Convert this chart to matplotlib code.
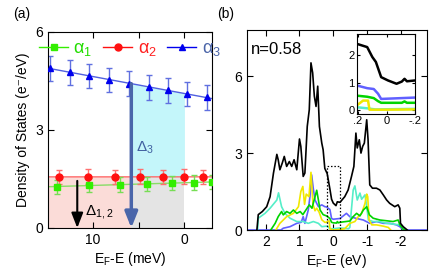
import numpy as np
import matplotlib
matplotlib.use('Agg')
from matplotlib import pyplot as plt

plt.rcParams['font.family'] = ['Liberation Sans', 'DejaVu Sans']
plt.rcParams['axes.unicode_minus'] = False
plt.rcParams['mathtext.fontset'] = 'custom'
plt.rcParams['mathtext.rm'] = 'Liberation Sans'
plt.rcParams['mathtext.it'] = 'Liberation Sans'

# ---- panel (a): DOS vs E_F-E (meV) ----
a1_x = [13.86, 10.37, 7.02, 4.10, 1.38, -1.09, -3.06]
a1_y = [1.26, 1.31, 1.33, 1.35, 1.37, 1.39, 1.41]
a2_x = [13.65, 10.48, 7.57, 4.84, 2.36, 0.0, -2.07]
a2_y = [1.56, 1.57, 1.56, 1.57, 1.56, 1.57, 1.56]
a3_x = [14.66, 12.48, 10.37, 8.19, 6.04, 3.89, 1.75, -0.33, -2.45]
a3_y = [4.89, 4.77, 4.65, 4.53, 4.42, 4.31, 4.21, 4.10, 4.00]
a1_err = 0.22
a2_err = 0.22
a3_err = 0.38
gap12 = 11.7   # Delta_1,2 position (meV)
gap3 = 5.8     # Delta_3 position (meV)

# ---- panel (b): calculated DOS vs E_F-E (eV) ----
black_x = [2.26, 2.22, 2.10, 1.97, 1.87, 1.77, 1.67, 1.63, 1.58, 1.51, 1.45, 1.38, 1.30, 1.23, 1.16,
           1.08, 1.00, 0.96, 0.89, 0.84, 0.77, 0.71, 0.66, 0.61, 0.56, 0.51, 0.46, 0.41, 0.34, 0.30,
           0.25, 0.18, 0.10, 0.05, 0.0, -0.08, -0.12, -0.20, -0.34, -0.44, -0.54, -0.61, -0.67, -0.71,
           -0.77, -0.82, -0.87, -0.92, -0.99, -1.03, -1.08, -1.16, -1.28, -1.38, -1.48, -1.58, -1.67,
           -1.82, -1.92, -1.97, -1.99, -2.07, -2.19]
black_y = [0, 0.6, 0.72, 0.91, 1.30, 2.22, 2.95, 2.74, 2.35, 2.61, 2.87, 2.48, 2.67, 2.48, 2.74,
           2.35, 3.55, 3.26, 2.09, 2.22, 4.04, 4.69, 6.52, 6.13, 5.22, 4.82, 5.61, 4.04, 3.39, 3.13,
           2.4, 2.2, 1.6, 1.2, 1.05, 0.95, 1.1, 1.08, 1.30, 1.56, 2.09, 2.48, 3.78, 3.20,
           3.52, 3.0, 3.26, 3.39, 4.30, 3.52, 1.76, 1.63, 1.63, 1.56, 1.37, 1.17, 1.04,
           0.91, 0.98, 0.85, 0.26, 0.13, 0.0]
cyan_x = [2.24, 2.22, 2.02, 1.87, 1.67, 1.62, 1.53, 1.43, 1.28, 1.08, 0.89, 0.74, 0.59, 0.44, 0.34,
          0.20, 0.15, 0.10, 0.0, -0.2, -0.45, -0.49, -0.59, -0.64, -0.71, -0.79, -0.84, -0.94, -0.99,
          -1.04, -1.18, -1.38, -1.58, -1.77, -1.97, -2.07, -2.15]
cyan_y = [0, 0.46, 0.65, 0.85, 1.17, 1.45, 0.91, 0.65, 0.46, 0.33, 0.33, 0.26, 0.33, 0.26, 0.13,
          0.15, 0.12, 0.05, 0.05, 0.08, 0.05, 0.1, 1.56, 1.72, 1.17, 1.44, 1.2, 1.37, 0.91,
          0.39, 0.33, 0.33, 0.26, 0.23, 0.2, 0.07, 0]
yel_x = [1.70, 1.58, 1.38, 1.18, 1.03, 0.96, 0.90, 0.85, 0.80, 0.72, 0.66, 0.60, 0.54, 0.49, 0.42,
         0.34, 0.25, 0.20, 0.15, 0.12, 0.10, 0.0, -0.2, -0.34, -0.49, -0.64, -0.74, -0.84, -0.94,
         -0.99, -1.02, -1.06, -1.14, -1.28, -1.48, -1.63, -1.70]
yel_y = [0, 0.26, 0.52, 0.65, 0.91, 1.5, 1.7, 1.0, 1.4, 1.3, 2.25, 1.0, 0.75, 0.85, 0.7,
         0.4, 0.3, 0.3, 0.35, 0.35, 0.05, 0.0, 0.02, 0.05, 0.26, 0.33, 0.52, 0.65, 1.04,
         1.4, 1.3, 0.39, 0.2, 0.2, 0.15, 0.1, 0]
grn_x = [1.85, 1.72, 1.63, 1.53, 1.48, 1.38, 1.28, 1.18, 1.08, 0.98, 0.90, 0.80, 0.71, 0.63, 0.54,
         0.49, 0.44, 0.39, 0.30, 0.20, 0.10, 0.05, 0.0, -0.10, -0.12, -0.15, -0.20, -0.49, -0.59,
         -0.69, -0.79, -0.89, -0.99, -1.07, -1.18, -1.38, -1.58, -1.77, -1.92, -1.97, -2.07, -2.12]
grn_y = [0, 0.26, 0.52, 0.72, 0.59, 0.72, 0.65, 0.78, 0.65, 0.72, 0.6, 0.8, 0.98, 0.85, 1.30,
         1.55, 1.17, 0.78, 0.6, 0.55, 0.45, 0.3, 0.28, 0.27, 0.33, 0.28, 0.3, 0.35, 0.52,
         0.65, 0.55, 0.78, 0.91, 0.59, 0.46, 0.39, 0.36, 0.33, 0.39, 0.2, 0.03, 0]
blu_x = [2.6, 1.55, 1.48, 1.28, 1.08, 0.95, 0.89, 0.84, 0.74, 0.69, 0.64, 0.59, 0.54, 0.44, 0.34,
         0.25, 0.20, 0.15, 0.10, 0.05, 0.0, -0.2, -0.39, -0.49, -0.69, -0.89, -1.08, -1.28, -1.48,
         -1.68, -1.87, -1.97, -2.07, -2.8]
blu_y = [0, 0, 0.07, 0.13, 0.26, 0.3, 0.52, 0.26, 0.78, 1.30, 2.15, 1.6, 1.17, 0.91, 0.98,
         0.91, 0.9, 0.85, 0.8, 0.45, 0.42, 0.45, 0.65, 0.52, 0.45, 0.39, 0.26, 0.33, 0.26,
         0.26, 0.2, 0.13, 0, 0]

# inset, zoom around E_F
in_black_x = [0.21, 0.136, 0.10, 0.075, 0.038, -0.01, -0.07, -0.107, -0.126, -0.143, -0.2]
in_black_y = [2.41, 2.29, 1.93, 1.75, 1.20, 1.08, 0.96, 1.04, 1.14, 1.05, 1.08]
in_blu_x = [0.21, 0.136, 0.09, 0.06, 0.038, -0.2]
in_blu_y = [0.90, 0.80, 0.77, 0.60, 0.41, 0.46]
in_grn_x = [0.21, 0.136, 0.09, 0.06, 0.038, -0.107, -0.126, -0.143, -0.2]
in_grn_y = [0.53, 0.49, 0.44, 0.33, 0.27, 0.27, 0.32, 0.27, 0.27]
in_yel_x = [0.21, 0.165, 0.13, 0.12, 0.0, -0.2]
in_yel_y = [0.17, 0.35, 0.35, 0.02, 0.02, 0.03]
in_cyan_x = [0.21, 0.136, 0.08, -0.2]
in_cyan_y = [0.11, 0.07, 0.03, 0.05]

fig = plt.figure(figsize=(4.36, 2.73), dpi=100)

# ---------------- (a) ----------------
ax = fig.add_axes([0.110, 0.165, 0.376, 0.718])
xfit = np.array([15.5, -3.5])

p1 = np.polyfit(a1_x, a1_y, 1)
p2 = np.polyfit(a2_x, a2_y, 1)
p3 = np.polyfit(a3_x, a3_y, 1)
lvl2 = np.polyval(p2, gap3)

# shaded regions
ax.fill_between([15.5, gap3], 0, lvl2, color='#fbdcd8', lw=0, zorder=0)
ax.fill_between([gap3, 0], 0, lvl2, color='#e4e4e4', lw=0, zorder=0)
ax.fill_between([gap3, 0], lvl2, np.polyval(p3, [gap3, 0]), color='#c4f6fa', lw=0, zorder=0)

ax.plot(xfit, np.polyval(p1, xfit), color='#88dd66', lw=1, zorder=1)
ax.plot(xfit, np.polyval(p2, xfit), color='#ff6a6a', lw=1, zorder=1)
ax.plot(xfit, np.polyval(p3, xfit), color='#5060e0', lw=1, zorder=1)

ax.errorbar(a1_x, a1_y, yerr=a1_err, fmt='none', ecolor='#77dd55', elinewidth=1, capsize=2.5, zorder=2)
ax.errorbar(a2_x, a2_y, yerr=a2_err, fmt='none', ecolor='#ff7070', elinewidth=1, capsize=2.5, zorder=2)
ax.errorbar(a3_x, a3_y, yerr=a3_err, fmt='none', ecolor='#6070e0', elinewidth=1, capsize=2.5, zorder=2)
ax.plot(a1_x, a1_y, 's', color='#33ee00', ms=4.5, zorder=3)
ax.plot(a2_x, a2_y, 'o', color='#ff1010', ms=5, zorder=3)
ax.plot(a3_x, a3_y, '^', color='#0000ee', ms=5, zorder=3)

# legend handles
h1, = ax.plot([], [], 's-', color='#33ee00', ms=4.5, lw=1)
h2, = ax.plot([], [], 'o-', color='#ff1010', ms=5, lw=1)
h3, = ax.plot([], [], '^-', color='#0000ee', ms=5, lw=1)
leg = ax.legend([h1, h2, h3], ['α$_1$', 'α$_2$', 'α$_3$'], ncol=3, loc='upper center',
                bbox_to_anchor=(0.5, 1.04), frameon=False, fontsize=13, handlelength=1.6,
                handletextpad=0.3, columnspacing=0.6)
for t, c in zip(leg.get_texts(), ['#22dd00', '#ff2020', '#4a64a8']):
    t.set_color(c)

# arrows
ax.annotate('', xy=(gap12, 0), xytext=(gap12, 1.44),
            arrowprops=dict(arrowstyle='-|>,head_width=0.35,head_length=0.9', lw=1.5,
                            color='black', shrinkA=0, shrinkB=0), zorder=4)
ax.annotate('', xy=(gap3, 0), xytext=(gap3, np.polyval(p3, gap3)),
            arrowprops=dict(arrowstyle='-|>,head_width=0.38,head_length=0.95', lw=2.5,
                            color='#4a66aa', shrinkA=0, shrinkB=0), zorder=4)
ax.text(10.9, 0.5, 'Δ$_{1,2}$', fontsize=11, color='black', va='center', ha='left')
ax.text(5.3, 2.45, 'Δ$_3$', fontsize=11, color='#4060a0', va='center', ha='left')

ax.set_xlim(14.9, -3.0)
ax.set_ylim(0, 6)
ax.set_xticks([10, 5, 0])
ax.set_xticklabels(['10', '', '0'])
ax.set_yticks([0, 3, 6])
ax.tick_params(direction='in', top=True, right=True, length=4, labelsize=10)
ax.set_xlabel('E$_\\mathrm{F}$-E (meV)', fontsize=10, labelpad=2)
ax.set_ylabel('Density of States (e⁻/eV)', fontsize=10, labelpad=4)
fig.text(0.03, 0.95, '(a)', fontsize=10, va='center')

# ---------------- (b) ----------------
bx = fig.add_axes([0.566, 0.1575, 0.413, 0.7325])
lw = 1.2
bx.plot(blu_x, blu_y, color='#6060ff', lw=lw)
bx.plot(cyan_x, cyan_y, color='#55eec8', lw=lw)
bx.plot(yel_x, yel_y, color='#f0e800', lw=lw)
bx.plot(grn_x, grn_y, color='#00d400', lw=lw)
bx.plot(black_x, black_y, color='black', lw=lw)
bx.plot([0.2, 0.2, -0.2, -0.2], [0, 2.5, 2.5, 0], ls=(0, (1.2, 1.5)), color='black', lw=0.9)
bx.text(0.025, 0.905, 'n=0.58', transform=bx.transAxes, fontsize=12, va='center', ha='left')
bx.set_xlim(2.56, -2.77)
bx.set_ylim(0, 7.8)
bx.set_xticks([2, 1, 0, -1, -2])
bx.set_yticks([0, 3, 6])
bx.tick_params(direction='in', top=True, right=True, length=4, labelsize=10)
bx.set_xlabel('E$_\\mathrm{F}$-E (eV)', fontsize=10, labelpad=2)
fig.text(0.498, 0.95, '(b)', fontsize=10, va='center')

# inset
ins = fig.add_axes([0.818, 0.581, 0.134, 0.293])
ilw = 1.8
ins.plot(in_cyan_x, in_cyan_y, color='#55eec8', lw=ilw)
ins.plot(in_yel_x, in_yel_y, color='#f0e800', lw=ilw)
ins.plot(in_grn_x, in_grn_y, color='#00d400', lw=ilw)
ins.plot(in_blu_x, in_blu_y, color='#6060ff', lw=ilw)
ins.plot(in_black_x, in_black_y, color='black', lw=ilw)
ins.set_xlim(0.21, -0.2)
ins.set_ylim(-0.15, 2.75)
ins.set_xticks([0.2, 0, -0.2])
ins.set_xticklabels(['.2', '0', '-.2'])
ins.set_yticks([0, 1, 2])
ins.tick_params(direction='in', top=True, right=True, length=2.5, labelsize=8, pad=1.5)

fig.savefig('out.png', dpi=100)
